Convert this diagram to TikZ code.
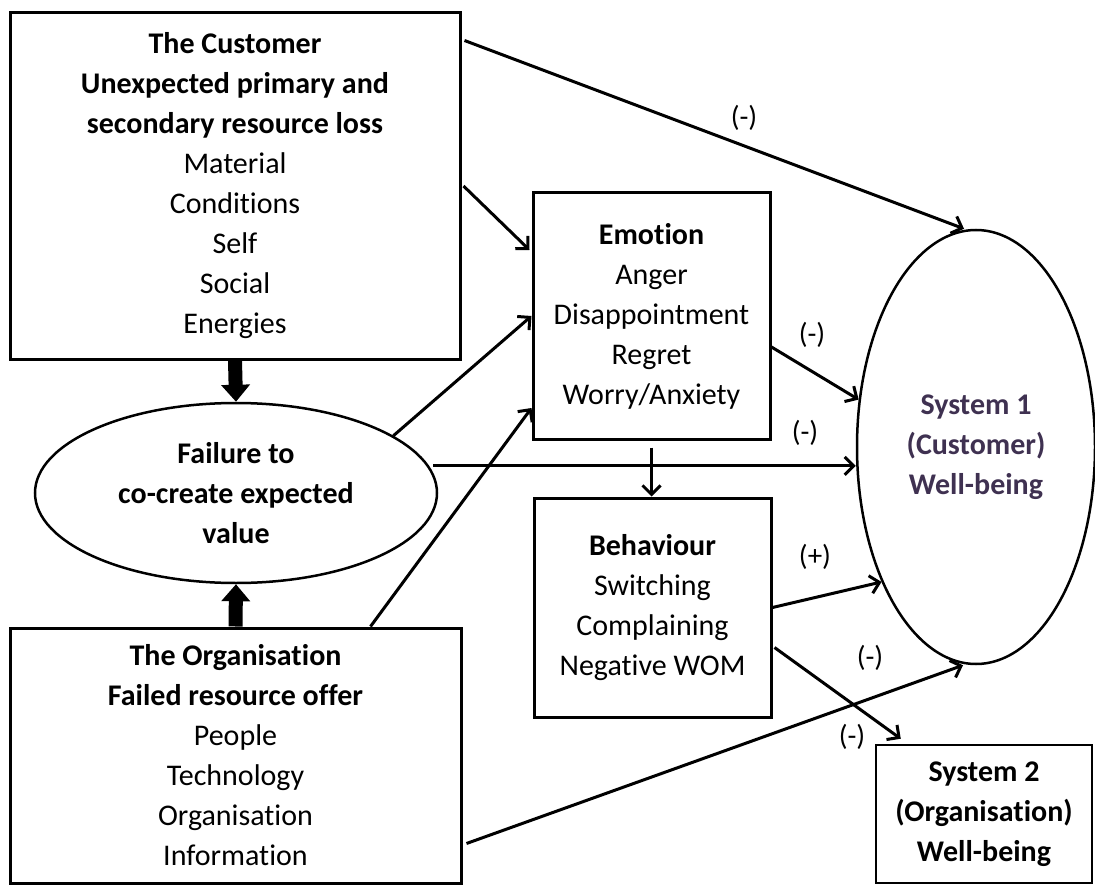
\documentclass[tikz,border=0pt]{standalone}
\usepackage{fontspec}
\setmainfont[Ligatures={NoCommon,NoRare,NoDiscretionary},Contextuals=NoAlternate]{Carlito}
\usetikzlibrary{arrows.meta,shapes.geometric}
\definecolor{sysone}{HTML}{3F3151}
\begin{document}
\begin{tikzpicture}[x=1pt,y=-1pt,
  txt/.style={font=\fontsize{30}{40}\selectfont, align=center},
  boxnode/.style={txt, draw, line width=3pt, rectangle, inner sep=0pt},
  ellnode/.style={txt, draw, line width=2.5pt, ellipse, inner sep=0pt},
  conn/.style={line width=3pt, -{Straight Barb[length=9pt,width=18pt]}},
  blockarrow/.style={line width=14pt, -{Triangle[length=17pt,width=28pt]}},
  lab/.style={font=\fontsize{29}{34}\selectfont, inner sep=0pt}
]
\useasboundingbox (0,0) rectangle (1095,885);

\node[boxnode, minimum width=450pt, minimum height=346pt] (cust) at (235,186)
  {\textbf{The Customer}\\ \textbf{Unexpected primary and}\\ \textbf{secondary resource loss}\\ Material\\ Conditions\\ Self\\ Social\\ Energies};

\node[boxnode, minimum width=451pt, minimum height=255pt] (org) at (235.5,755.5)
  {\textbf{The Organisation}\\ \textbf{Failed resource offer}\\ People\\ Technology\\ Organisation\\ Information};

\node[ellnode, minimum width=402pt, minimum height=180pt] (fail) at (236,493)
  {\textbf{Failure to}\\ \textbf{co-create expected}\\ \textbf{value}};

\node[boxnode, minimum width=237pt, minimum height=246pt] (emo) at (651.5,316)
  {\textbf{Emotion}\\ Anger\\ Disappointment\\ Regret\\ Worry/Anxiety};

\node[boxnode, minimum width=237pt, minimum height=219pt] (beh) at (652.5,607.5)
  {\textbf{Behaviour}\\ Switching\\ Complaining\\ Negative WOM};

\node[ellnode, text=sysone, minimum width=238pt, minimum height=434pt] (sys1) at (976,447)
  {\textbf{System 1}\\ \textbf{(Customer)}\\ \textbf{Well-being}};

\node[boxnode, line width=2.5pt, minimum width=216pt, minimum height=138pt] (sys2) at (984,814)
  {\textbf{System 2}\\ \textbf{(Organisation)}\\ \textbf{Well-being}};

% block arrows
\draw[blockarrow] (cust.south) -- (fail.north);
\draw[blockarrow] (org.north) -- (fail.south);

% connectors
\draw[conn] ([xshift=3pt,yshift=-29pt]cust.north east) -- ([xshift=-12pt]sys1.north);
\draw[conn] ([xshift=2pt]cust.east) -- ([xshift=-2pt,yshift=66pt]emo.west);
\draw[conn] (fail.20) -- (emo.west);
\draw[conn] ([xshift=135pt]org.north) -- ([yshift=-92pt]emo.west);
\draw[conn] ([yshift=-31pt]emo.east) -- (sys1.158);
\coordinate (h1) at ([xshift=4pt]fail.8);
\draw[conn] (h1) -- (h1 -| sys1.west);
\draw[conn] ([yshift=-7pt]emo.south) -- (emo.south |- beh.north);
\draw[conn] (beh.east) -- (sys1.235);
\draw[conn] ([xshift=2pt,yshift=-40pt]beh.east) -- ([xshift=26pt,yshift=5pt]sys2.north west);
\draw[conn] ([xshift=4pt,yshift=-88pt]org.east) -- ([xshift=-13pt]sys1.south);

% labels
\node[lab] (l1) at (744,118) {(-)};
\node[lab] (l2) at (812,335) {(-)};
\node[lab] (l3) at (805,433) {(-)};
\node[lab] (l4) at (815,557) {(+)};
\node[lab] (l5) at (870,658) {(-)};
\node[lab] (l6) at (852,737) {(-)};
\end{tikzpicture}
\end{document}
